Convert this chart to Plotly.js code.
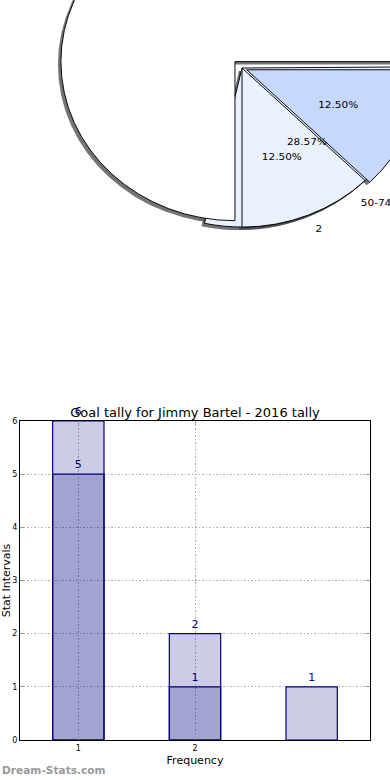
<!DOCTYPE html>
<html><head><meta charset="utf-8">
<script src="https://cdn.plot.ly/plotly-3.0.1.min.js"></script>
<style>
html,body{margin:0;padding:0;width:390px;height:780px;overflow:hidden;background:#fff;}
#bars{position:absolute;left:0;top:0;width:390px;height:780px;}
.pie{position:absolute;left:58px;top:-116px;width:368px;height:368px;transform:scaleY(0.914);transform-origin:50% 50%;}
#shadow{left:55px;top:-113px;}
</style></head><body>
<div id="bars"></div>
<div id="shadow" class="pie"></div>
<div id="pie" class="pie"></div>
<script>
// ---- pie data ----
const pieValues = [12.5, 12.5, 75];
const pieColors = ['#c6d9fd', '#eaf1fe', '#ffffff'];
const pieOuterLabels = ['', '2', ''];
const pie2Values = [2, 5];
const pie2Colors = ['#eaf1fe', 'rgba(0,0,0,0)'];
const pie2OuterLabels = ['50-74', ''];
// ---- bar data ----
const barCategories = [1, 2, 3];
const lightValues = [6, 2, 1];
const darkValues = [5, 1, null];
const xTickVals = [1, 2];
const xTickText = ['1', '2'];
const yTickVals = [0, 1, 2, 3, 4, 5, 6];

const FONT = 'DejaVu Sans, Verdana, sans-serif';
const piePull = [0.029, 0, 0.057];
const labelPull = [0.029, 0.057, 0.057];
const clear = 'rgba(0,0,0,0)';
const shade = 'rgba(70,70,70,0.75)';
const full = {x: [0, 1], y: [0, 1]};
const pie2Dom = {x: [0.0272, 0.9728], y: [0.0272, 0.9728]};
const common = {type: 'pie', sort: false, direction: 'clockwise', hoverinfo: 'skip', showlegend: false};
const P1 = {rotation: 90};
const P2 = {rotation: 89.6};

const pieTraces = [
  // second pie, drawn behind
  Object.assign({}, common, P2, {
    values: pie2Values, marker: {colors: pie2Colors, line: {color: '#000', width: [1, 0]}},
    textinfo: 'none', domain: pie2Dom
  }),
  // main pie
  Object.assign({}, common, P1, {
    values: pieValues, pull: piePull,
    marker: {colors: pieColors, line: {color: '#000', width: 1}},
    textinfo: 'none', domain: full
  }),
  Object.assign({}, common, P1, {
    values: pieValues, pull: labelPull,
    marker: {colors: pieValues.map(() => clear), line: {width: 0}},
    text: pieOuterLabels, texttemplate: '%{text}', textposition: 'outside',
    outsidetextfont: {family: FONT, size: 10.5, color: '#000'},
    domain: full
  }),
  Object.assign({}, common, P1, {
    values: pieValues,
    marker: {colors: pieValues.map(() => clear), line: {width: 0}},
    texttemplate: ['%{percent:.2%}', '%{percent:.2%}', ''], textposition: 'inside',
    insidetextorientation: 'horizontal',
    insidetextfont: {family: FONT, size: 10.5, color: '#000'},
    domain: {x: [0.109, 0.891], y: [0.109, 0.891]}
  }),
  Object.assign({}, common, P2, {
    values: pie2Values,
    marker: {colors: pie2Values.map(() => clear), line: {width: 0}},
    texttemplate: ['%{percent:.2%}', ''], textposition: 'inside',
    insidetextorientation: 'horizontal',
    insidetextfont: {family: FONT, size: 10.5, color: '#000'},
    domain: full
  }),
  Object.assign({}, common, P2, {
    values: pie2Values,
    marker: {colors: pie2Values.map(() => clear), line: {width: 0}},
    text: pie2OuterLabels, texttemplate: '%{text}', textposition: 'outside',
    outsidetextfont: {family: FONT, size: 10.5, color: '#000'},
    domain: full
  })
];

const pieLayout = {
  width: 368, height: 368, margin: {l: 0, r: 0, t: 0, b: 0},
  paper_bgcolor: clear, plot_bgcolor: clear, font: {family: FONT}
};
const cfg = {staticPlot: true, displayModeBar: false, responsive: false};

Plotly.newPlot('shadow', [
  Object.assign({}, common, P2, {
    values: pie2Values, marker: {colors: [shade, clear], line: {width: 0}},
    textinfo: 'none', domain: pie2Dom
  }),
  Object.assign({}, common, P1, {
    values: pieValues, pull: piePull,
    marker: {colors: [shade, shade, shade], line: {width: 0}},
    textinfo: 'none', domain: full
  })
], pieLayout, cfg);
Plotly.newPlot('pie', pieTraces, pieLayout, cfg);

// ---- bars ----
const barStyle = {
  type: 'bar', x: barCategories, width: 0.44,
  marker: {color: 'rgba(0,0,128,0.2)', line: {color: '#000080', width: 1.2}},
  texttemplate: '%{y}', textposition: 'outside', cliponaxis: false,
  textfont: {family: FONT, size: 11, color: '#000080'},
  hoverinfo: 'skip', showlegend: false
};
const barTraces = [
  Object.assign({}, barStyle, {y: lightValues}),
  Object.assign({}, barStyle, {y: darkValues})
];
const axisStyle = {
  showgrid: true, gridcolor: '#b0b0b0', griddash: '1.5px,2px', gridwidth: 1,
  showline: true, linecolor: '#000', linewidth: 1, mirror: 'ticks',
  ticks: 'inside', ticklen: 4, tickcolor: '#999', zeroline: false,
  tickfont: {family: FONT, size: 8, color: '#000'}
};
const barLayout = {
  width: 390, height: 780,
  margin: {l: 20, r: 20, t: 421, b: 40},
  paper_bgcolor: '#fff', plot_bgcolor: '#fff',
  font: {family: FONT, color: '#000'},
  barmode: 'overlay',
  title: {text: 'Goal tally for Jimmy Bartel - 2016 tally', font: {family: FONT, size: 13, color: '#000'},
          x: 0.5, xref: 'paper', xanchor: 'center', y: 1 - 412 / 780, yref: 'container', yanchor: 'middle'},
  xaxis: Object.assign({}, axisStyle, {range: [0.5, 3.5], tickvals: xTickVals, ticktext: xTickText,
          title: {text: 'Frequency', font: {family: FONT, size: 11, color: '#000'}, standoff: 4}}),
  yaxis: Object.assign({}, axisStyle, {range: [0, 6], tickvals: yTickVals,
          title: {text: 'Stat Intervals', font: {family: FONT, size: 11, color: '#000'}, standoff: 3}}),
  annotations: [{
    text: 'Dream-Stats.com', showarrow: false,
    xref: 'paper', x: -20 / 350, xanchor: 'left',
    yref: 'paper', y: -30 / 319, yanchor: 'middle',
    font: {family: FONT, size: 10.6, color: '#9a9a9a', weight: 'bold'}
  }]
};
Plotly.newPlot('bars', barTraces, barLayout, cfg);
</script>
</body></html>
